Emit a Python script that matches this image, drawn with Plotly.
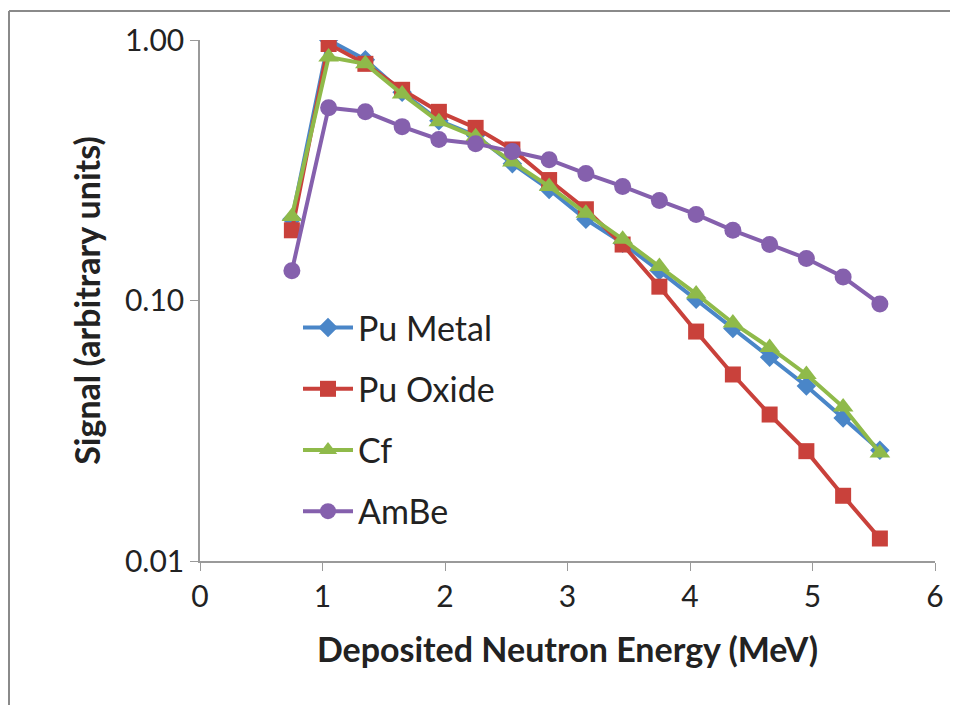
import plotly.graph_objects as go

energy = [0.75, 1.05, 1.35, 1.65, 1.95, 2.25, 2.55, 2.85, 3.15, 3.45, 3.75, 4.05, 4.35, 4.65, 4.95, 5.25, 5.55]

pu_metal = [0.205, 1.00, 0.84, 0.63, 0.49, 0.43, 0.335, 0.267, 0.205, 0.166, 0.130, 0.101, 0.078, 0.0606, 0.047, 0.0354, 0.0266]
pu_oxide = [0.186, 0.965, 0.81, 0.644, 0.53, 0.46, 0.38, 0.29, 0.224, 0.164, 0.113, 0.076, 0.052, 0.0365, 0.0264, 0.0178, 0.0122]
cf = [0.21, 0.86, 0.81, 0.62, 0.486, 0.425, 0.34, 0.274, 0.216, 0.172, 0.135, 0.106, 0.082, 0.066, 0.052, 0.039, 0.026]
ambe = [0.130, 0.55, 0.53, 0.465, 0.415, 0.40, 0.373, 0.347, 0.307, 0.274, 0.242, 0.214, 0.186, 0.164, 0.145, 0.123, 0.097]

y_tickvals = [0.01, 0.1, 1.0]
y_ticktext = ["0.01", "0.10", "1.00"]
x_tickvals = [0, 1, 2, 3, 4, 5, 6]

series = [
    ("Pu Metal", pu_metal, "#4a86c8", "diamond", 15),
    ("Pu Oxide", pu_oxide, "#c9413b", "square", 16),
    ("Cf", cf, "#8fba4a", "triangle-up", 18),
    ("AmBe", ambe, "#8560ad", "circle", 17),
]

fig = go.Figure()
for i, (name, vals, color, sym, size) in enumerate(series):
    fig.add_trace(go.Scatter(
        x=energy, y=vals, name=name, mode="lines+markers",
        line=dict(color=color, width=4),
        marker=dict(symbol=sym, size=size, color=color),
        legendgroup=f"g{i}",
    ))

font_family = "Lato, 'Open Sans', sans-serif"

L, R, T, B = 192, 31, 30, 152
PW = 958 - L - R
PH = 705 - T - B

fig.update_layout(
    width=958, height=705,
    paper_bgcolor="white", plot_bgcolor="white",
    margin=dict(l=L, r=R, t=T, b=B),
    font=dict(family=font_family, color="#222222"),
    showlegend=True,
    legend=dict(
        x=(290 - L) / PW, y=1 - (290 - T) / PH, xanchor="left", yanchor="top",
        font=dict(size=34, color="#222222"),
        tracegroupgap=14,
        traceorder="grouped",
        itemwidth=50,
        bgcolor="rgba(255,255,255,0)",
    ),
    xaxis=dict(
        range=[0, 6], tickvals=x_tickvals, ticks="outside", ticklen=8,
        tickcolor="#9a9a9a", showline=True, linecolor="#9a9a9a", linewidth=1.5,
        showgrid=False, zeroline=False,
        tickfont=dict(size=30, color="#222222"),
        title=dict(text="<b>Deposited Neutron Energy (MeV)</b>", font=dict(size=34, color="#222222"), standoff=26),
    ),
    yaxis=dict(
        type="log", range=[-2, 0], tickvals=y_tickvals, ticktext=y_ticktext,
        ticks="outside", ticklen=8, tickcolor="#9a9a9a",
        showline=True, linecolor="#9a9a9a", linewidth=1.5,
        showgrid=False, zeroline=False,
        tickfont=dict(size=30, color="#222222"),
        title=dict(text="<b>Signal (arbitrary units)</b>", font=dict(size=34, color="#222222"), standoff=14),
    ),
)

# outer frame (left and top edges visible)
fx = (1 - L) / PW
fy = 1 + (T - 1) / PH
fig.add_shape(type="line", xref="paper", yref="paper", x0=fx, x1=fx, y0=-0.5, y1=fy,
              line=dict(color="#8a8a8a", width=2))
fig.add_shape(type="line", xref="paper", yref="paper", x0=fx, x1=1.2, y0=fy, y1=fy,
              line=dict(color="#8a8a8a", width=2))

fig.write_html("out.html")
